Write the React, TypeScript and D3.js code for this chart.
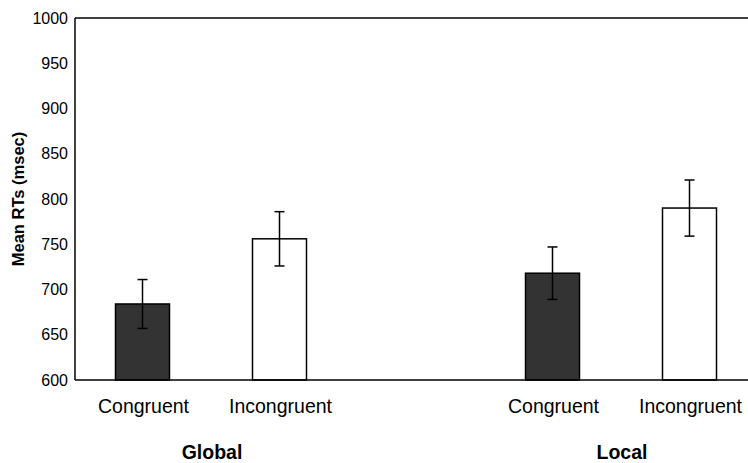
import React from "react";
import * as d3 from "d3";

// chart values
const groups = ["Global", "Local"];
const conditions = ["Congruent", "Incongruent"];
const means = [
  [684, 756],
  [718, 790],
];
const errors = [
  [27, 30],
  [29, 31],
];
const yTicks = [600, 650, 700, 750, 800, 850, 900, 950, 1000];

const W = 748;
const H = 463;
const left = 75;
const top = 18;
const bottom = 380;

function App() {
  const y = d3.scaleLinear().domain([600, 1000]).range([bottom, top]);
  const gx = d3.scalePoint().domain(groups).range([212, 622]);
  const cx = d3.scalePoint().domain(conditions).range([-69.5, 67.5]);
  const barW = 54;
  const capW = 10;
  const font = "Liberation Sans, Arial, sans-serif";
  const fills = ["#333333", "#ffffff"];

  return (
    <svg width={W} height={H} style={{ position: "absolute", left: 0, top: 0 }} fontFamily={font}>
      <rect width={W} height={H} fill="#fff" />
      {/* frame */}
      <line x1={left} x2={W} y1={top} y2={top} stroke="#000" strokeWidth={1.5} />
      <line x1={left} x2={left} y1={top} y2={bottom} stroke="#000" strokeWidth={1.5} />

      {yTicks.map((t) => (
        <text key={t} x={left - 7} y={y(t)} dy="0.35em" textAnchor="end" fontSize={16}>
          {t}
        </text>
      ))}
      <text
        transform={`translate(18,${(top + bottom) / 2}) rotate(-90)`}
        textAnchor="middle"
        dy="0.35em"
        fontSize={16.5}
        fontWeight="bold"
      >
        Mean RTs (msec)
      </text>

      {groups.map((g, gi) => (
        <g key={g}>
          {conditions.map((c, ci) => {
            const x = (gx(g) as number) + (cx(c) as number);
            const v = means[gi][ci];
            const e = errors[gi][ci];
            return (
              <g key={c}>
                <rect
                  x={x - barW / 2}
                  y={y(v)}
                  width={barW}
                  height={bottom - y(v)}
                  fill={fills[ci]}
                  stroke="#000"
                  strokeWidth={1.5}
                />
                <line x1={x} x2={x} y1={y(v + e)} y2={y(v - e)} stroke="#000" strokeWidth={1.5} />
                <line x1={x - capW / 2} x2={x + capW / 2} y1={y(v + e)} y2={y(v + e)} stroke="#000" strokeWidth={1.5} />
                <line x1={x - capW / 2} x2={x + capW / 2} y1={y(v - e)} y2={y(v - e)} stroke="#000" strokeWidth={1.5} />
                <text x={x + 1} y={413} textAnchor="middle" fontSize={19.5}>
                  {c}
                </text>
              </g>
            );
          })}
          <text x={gx(g)} y={459} textAnchor="middle" fontSize={19.5} fontWeight="bold">
            {g}
          </text>
        </g>
      ))}
      <line x1={left} x2={W} y1={bottom} y2={bottom} stroke="#000" strokeWidth={1.5} />
    </svg>
  );
}

export default App;
